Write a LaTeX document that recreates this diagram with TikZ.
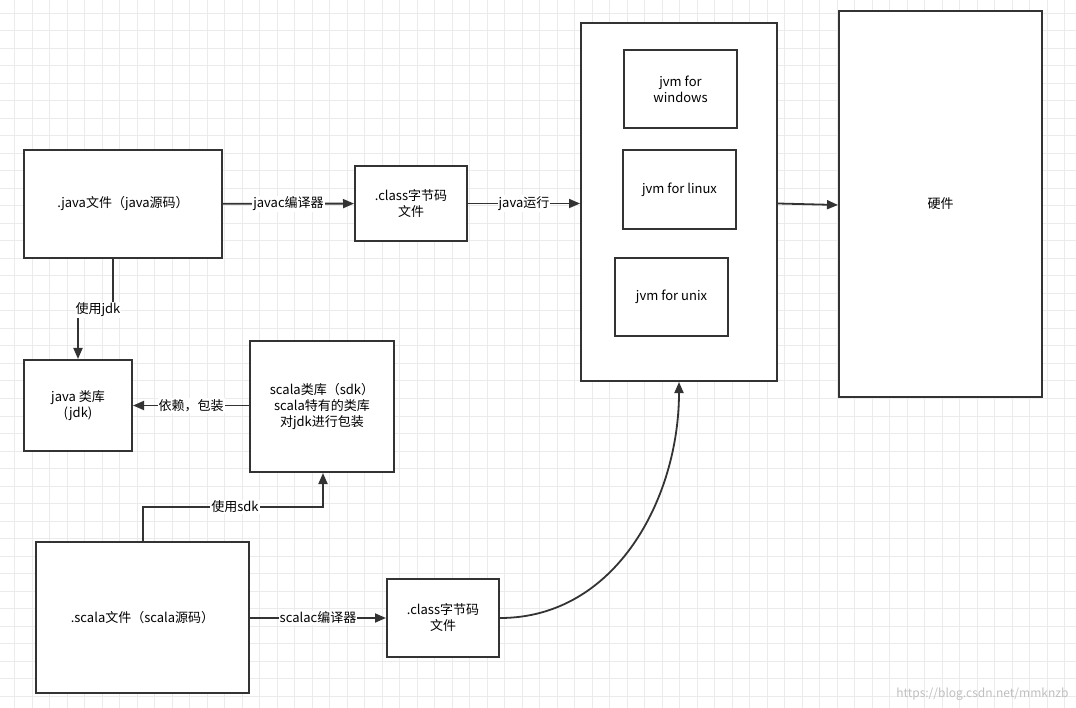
\documentclass[tikz,border=0pt]{standalone}
\usepackage{fontspec}
\setmainfont{Noto Sans CJK SC}
\usetikzlibrary{arrows.meta}
\definecolor{gridC}{RGB}{235,235,235}
\definecolor{lineC}{RGB}{51,51,51}
\begin{document}
\begin{tikzpicture}[x=1pt,y=-1pt,
  box/.style={draw=lineC, line width=2pt, fill=white, inner sep=0pt, align=center, font=\fontsize{13}{16}\selectfont},
  edge/.style={draw=lineC, line width=1.8pt, -{Triangle[length=11pt,width=9pt]}},
  lbl/.style={fill=white, inner sep=1pt, font=\fontsize{13}{16}\selectfont}]
\useasboundingbox (0,0) rectangle (1076,708);
\fill[white] (0,0) rectangle (1076,708);
% grid
\foreach \i in {0,...,61} \draw[gridC, line width=1pt] (14.5+17.5*\i,0) -- (14.5+17.5*\i,708);
\foreach \i in {0,...,40} \draw[gridC, line width=1pt] (0,13.5+17.5*\i) -- (1076,13.5+17.5*\i);
%
\node[box, minimum width=198, minimum height=108] (javasrc) at (123,204) {.java文件（java源码）};
\node[box, minimum width=112, minimum height=75] (classA) at (411,203.5) {.class字节码\\文件};
\node[box, minimum width=196, minimum height=358] (jvm) at (679,202) {};
\node[box, minimum width=113, minimum height=78] (jvmwin) at (680.5,89) {jvm for\\windows};
\node[box, minimum width=113, minimum height=79] (jvmlinux) at (679.5,189.5) {jvm for linux};
\node[box, minimum width=113, minimum height=78] (jvmunix) at (671.5,297) {jvm for unix};
\node[box, minimum width=203, minimum height=386] (hw) at (940.5,204) {硬件};
\node[box, minimum width=108, minimum height=91] (javalib) at (78,405.5) {java 类库\\(jdk)};
\node[box, minimum width=144, minimum height=131] (scalalib) at (322,406.5) {scala类库（sdk）\\scala特有的类库\\对jdk进行包装};
\node[box, minimum width=213, minimum height=151] (scalasrc) at (142.5,617.5) {.scala文件（scala源码）};
\node[box, minimum width=112, minimum height=78] (classB) at (443,618) {.class字节码\\文件};
%
\draw[edge] (javasrc) -- node[lbl] {javac编译器} (classA);
\draw[edge] (classA) -- node[lbl] {java运行} (jvm.west |- classA);
\draw[edge] (jvm.east |- classA) -- (hw.west |- 0,205);
\draw[edge] (javasrc.south -| 113,0) |- (78,310) -- (javalib.north);
\node[lbl] (usejdk) at (98,310) {使用jdk};
\draw[edge] (scalalib.west |- javalib) -- node[lbl] {依赖，包装} (javalib.east);
\draw[edge] (scalasrc.north -| 143,0) |- (323,507) -- (scalalib.south -| 323,0);
\node[lbl] (usesdk) at (235,507) {使用sdk};
\draw[edge] (scalasrc.east |- classB) -- node[lbl] {scalac编译器} (classB.west);
\draw[edge] (classB.east) to[out=0,in=-90] (jvm.south);
%
\node[text=black!25, font=\fontsize{12}{14}\selectfont, anchor=south east] (mark) at (1072,704) {https://blog.csdn.net/mmknzb};
\end{tikzpicture}
\end{document}
